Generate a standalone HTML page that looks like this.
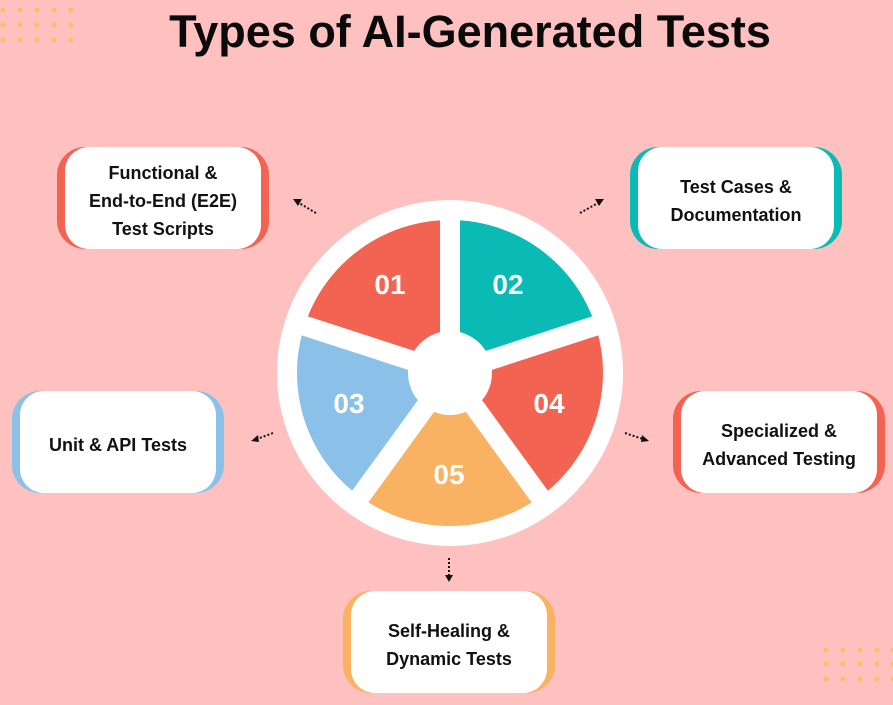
<!DOCTYPE html>
<html><head><meta charset="utf-8"><style>
body{margin:0;width:893px;height:705px;background:#FFC0C0;position:relative;overflow:hidden;font-family:"Liberation Sans",sans-serif}
.t{position:absolute;left:0;width:940px;top:6px;text-align:center;font-size:45px;font-weight:bold;color:#0a0a0a}
.b{position:absolute;width:212px;height:102px;border-radius:28px}
.b div{position:absolute;left:8px;right:8px;top:0;bottom:0;padding-top:5px;box-sizing:border-box;background:#fff;border-radius:24px;display:flex;align-items:center;justify-content:center;text-align:center;font-weight:bold;font-size:18px;line-height:28px;color:#111}
</style></head><body>
<div class="t">Types of AI-Generated Tests</div>
<svg width="893" height="705" style="position:absolute;left:0;top:0">
<g fill="#F9C05E">
<circle cx="3" cy="10" r="2.5"/><circle cx="20" cy="10" r="2.5"/><circle cx="37" cy="10" r="2.5"/><circle cx="54" cy="10" r="2.5"/><circle cx="71" cy="10" r="2.5"/>
<circle cx="3" cy="25" r="2.5"/><circle cx="20" cy="25" r="2.5"/><circle cx="37" cy="25" r="2.5"/><circle cx="54" cy="25" r="2.5"/><circle cx="71" cy="25" r="2.5"/>
<circle cx="3" cy="40" r="2.5"/><circle cx="20" cy="40" r="2.5"/><circle cx="37" cy="40" r="2.5"/><circle cx="54" cy="40" r="2.5"/><circle cx="71" cy="40" r="2.5"/>
<circle cx="826" cy="650" r="2.5"/><circle cx="843" cy="650" r="2.5"/><circle cx="860" cy="650" r="2.5"/><circle cx="877" cy="650" r="2.5"/><circle cx="893" cy="650" r="2.5"/>
<circle cx="826" cy="664" r="2.5"/><circle cx="843" cy="664" r="2.5"/><circle cx="860" cy="664" r="2.5"/><circle cx="877" cy="664" r="2.5"/><circle cx="893" cy="664" r="2.5"/>
<circle cx="826" cy="679" r="2.5"/><circle cx="843" cy="679" r="2.5"/><circle cx="860" cy="679" r="2.5"/><circle cx="877" cy="679" r="2.5"/><circle cx="893" cy="679" r="2.5"/>
</g>
<circle cx="450" cy="373" r="173" fill="#fff"/>
<g transform="translate(450,373)">
<path d="M0 0 L0 -153 A153 153 0 0 0 -145.5 -47.3 Z" fill="#F26451"/>
<path d="M0 0 L0 -153 A153 153 0 0 1 145.5 -47.3 Z" fill="#09BAB5"/>
<path d="M0 0 L145.5 -47.3 A153 153 0 0 1 89.9 123.8 Z" fill="#F26451"/>
<path d="M0 0 L89.9 123.8 A153 153 0 0 1 -89.9 123.8 Z" fill="#F9B162"/>
<path d="M0 0 L-89.9 123.8 A153 153 0 0 1 -145.5 -47.3 Z" fill="#8BC1E9"/>
<g stroke="#fff" stroke-width="20">
<line x1="0" y1="0" x2="0" y2="-170"/><line x1="0" y1="0" x2="161.7" y2="-52.5"/><line x1="0" y1="0" x2="99.9" y2="137.5"/><line x1="0" y1="0" x2="-99.9" y2="137.5"/><line x1="0" y1="0" x2="-161.7" y2="-52.5"/>
</g>
<circle r="42" fill="#fff"/>
</g>
<g fill="#fff" font-weight="bold" font-size="28" text-anchor="middle" font-family="Liberation Sans, sans-serif">
<text x="390" y="294">01</text><text x="508" y="294">02</text><text x="349" y="413">03</text><text x="549" y="413">04</text><text x="449" y="484">05</text>
</g>
<g stroke="#111" stroke-width="2" stroke-dasharray="2 2" fill="none">
<line x1="316" y1="213" x2="299" y2="203"/><line x1="580" y1="213" x2="598" y2="203"/><line x1="273" y1="433" x2="257" y2="439"/><line x1="625" y1="433" x2="643" y2="439"/><line x1="449" y1="558" x2="449" y2="576"/>
</g>
<g fill="#111">
<polygon points="293,199 302,199 298,206"/><polygon points="604,199 595,199 599,206"/><polygon points="251,441 258,435 259,442"/><polygon points="649,441 642,435 641,442"/><polygon points="449,582 445,575 453,575"/>
</g>
</svg>
<div class="b" style="left:57px;top:147px;background:#F26451"><div>Functional &amp;<br>End-to-End (E2E)<br>Test Scripts</div></div>
<div class="b" style="left:630px;top:147px;background:#09BAB5"><div>Test Cases &amp;<br>Documentation</div></div>
<div class="b" style="left:12px;top:391px;background:#8BC1E9"><div>Unit &amp; API Tests</div></div>
<div class="b" style="left:673px;top:391px;background:#F26451"><div>Specialized &amp;<br>Advanced Testing</div></div>
<div class="b" style="left:343px;top:591px;background:#F9B162"><div>Self-Healing &amp;<br>Dynamic Tests</div></div>
</body></html>
